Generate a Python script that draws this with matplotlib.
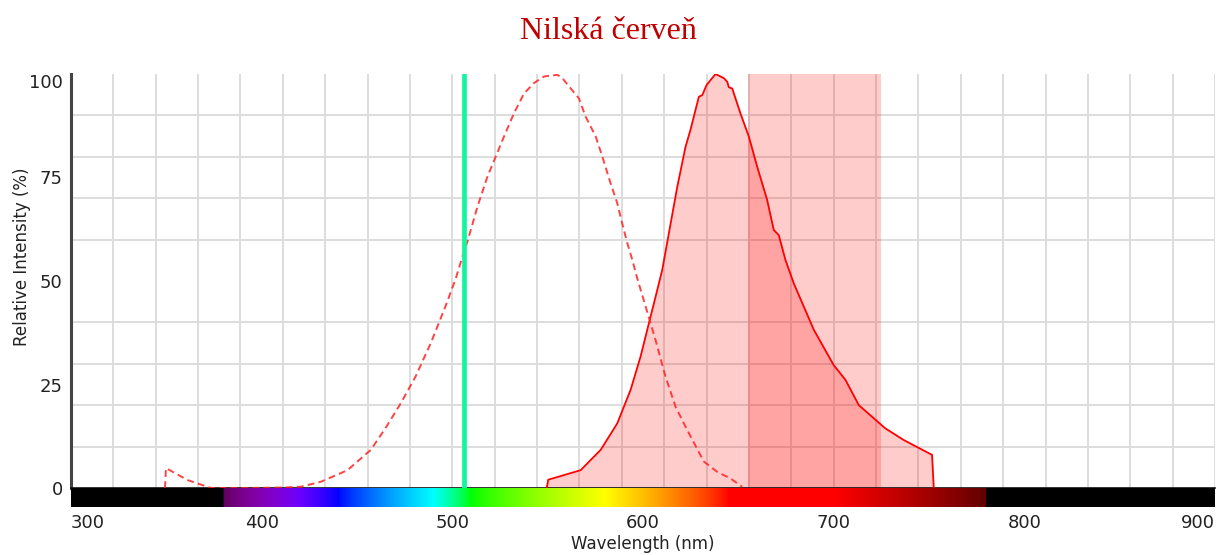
import numpy as np
import matplotlib
matplotlib.use('Agg')
import matplotlib.pyplot as plt

# emission spectrum (solid, filled)
em_nm = [549.5, 550.3, 567.3, 577.8, 586.5, 593.5, 598.7, 603.1, 606.6, 610.1,
         614.5, 618.0, 622.3, 624.9, 629.3, 631.1, 633.3, 638.0, 642.4, 644.2,
         645.0, 646.8, 651.1, 655.5, 659.9, 665.1, 668.6, 671.2, 674.7, 679.1,
         689.6, 700.0, 706.2, 713.2, 727.1, 736.7, 751.6, 752.5]
em_pct = [0, 2.0, 4.3, 9.2, 15.6, 23.7, 31.7, 39.8, 46.2, 52.7,
          63.9, 72.8, 82.4, 86.5, 94.5, 94.9, 97.3, 100, 99.0, 98.1,
          96.8, 96.5, 90.5, 84.9, 77.6, 69.6, 62.3, 61.1, 55.1, 49.4,
          38.2, 29.7, 26.1, 20.0, 14.4, 11.6, 8.0, 0]

# excitation spectrum (dashed)
ex_nm = [349.3, 349.8, 361.2, 373.4, 390, 410, 420.5, 431.0, 445.0, 457.2,
         465, 473, 480.8, 488.7, 496.5, 501.8, 505.3, 507.9, 513.2, 518.4,
         522.7, 527.1, 532.3, 537.6, 542.8, 548.1, 555.1, 557.7, 562.1, 566.4,
         569.9, 575.2, 578.7, 583.0, 586.5, 589.1, 591.8, 594.4, 597.0, 601.4,
         606.6, 611.8, 617.1, 623.2, 631.9, 638.9, 645.9, 652.0]
ex_pct = [0, 4.8, 1.9, 0, 0, 0.1, 0.3, 1.5, 4.3, 9.2,
          14.5, 20.5, 27.0, 35.0, 44.0, 50.6, 55.9, 59.5, 68.0, 75.2,
          80.0, 84.9, 90.5, 95.3, 97.8, 99.4, 99.8, 99.0, 96.5, 94.1,
          89.7, 84.9, 80.0, 73.6, 68.8, 63.9, 59.1, 55.1, 50.6, 43.8,
          35.7, 26.9, 19.6, 14.0, 6.4, 3.9, 2.3, 0.3]

laser_nm = 506
filter_band = (655, 725)

x_ticks = [300, 400, 500, 600, 700, 800, 900]
y_ticks = [0, 25, 50, 75, 100]


def wl_to_rgb(w, gamma=0.8):
    # Bruton's approximation of visible colours
    if w < 380 or w > 780:
        return (0, 0, 0)
    if w < 440:
        r, g, b = -(w - 440) / 60, 0, 1
    elif w < 490:
        r, g, b = 0, (w - 440) / 50, 1
    elif w < 510:
        r, g, b = 0, 1, -(w - 510) / 20
    elif w < 580:
        r, g, b = (w - 510) / 70, 1, 0
    elif w < 645:
        r, g, b = 1, -(w - 645) / 65, 0
    else:
        r, g, b = 1, 0, 0
    if w < 420:
        f = 0.3 + 0.7 * (w - 380) / 40
    elif w > 700:
        f = 0.3 + 0.7 * (780 - w) / 80
    else:
        f = 1.0
    return tuple((c * f) ** gamma if c > 0 else 0 for c in (r, g, b))


W, H = 1217, 555
fig = plt.figure(figsize=(W / 100, H / 100), dpi=100)
ax = fig.add_axes([71 / W, 67 / H, 1144 / W, 414 / H])
cax = fig.add_axes([71 / W, 48 / H, 1144 / W, 19 / H])

ax.set_xlim(300, 900)
ax.set_ylim(0, 100)
# grid on minor ticks, labels on major ticks
ax.set_xticks([])
ax.set_xticks(np.linspace(300, 900, 28), minor=True)
ax.set_yticks(y_ticks)
ax.set_yticklabels([str(v) for v in y_ticks], fontsize=13, color='#222222')
ax.set_yticks(range(0, 101, 10), minor=True)
ax.yaxis.get_majorticklabels()[-1].set_va('top')
ax.tick_params(which='both', length=0)
ax.tick_params(axis='y', pad=6)
ax.grid(True, which='minor', color='#dddddd', lw=1.4, zorder=0)
ax.set_axisbelow(True)
for s in ['top', 'right']:
    ax.spines[s].set_visible(False)
ax.spines['left'].set_color('#444444')
ax.spines['left'].set_linewidth(2.2)
ax.spines['bottom'].set_color('#111111')
ax.spines['bottom'].set_linewidth(1.2)

ax.axvspan(*filter_band, color='red', alpha=0.2, lw=0, zorder=1)
ax.fill_between(em_nm, 0, em_pct, color='red', alpha=0.2, lw=0, zorder=2)
ax.plot(em_nm, em_pct, color='#ff0000', lw=1.3, zorder=3)
ax.plot(ex_nm, ex_pct, color='#ff2222', lw=1.4, ls=(0, (3.5, 2.2)), alpha=0.85, zorder=3)
ax.axvline(laser_nm, color='#14f5a2', lw=3.4, zorder=4)

fig.text(22 / W, 1 - 257 / H, 'Relative Intensity (%)', fontsize=12, color='#222222',
         rotation=90, ha='center', va='center')

# spectrum strip under the plot
wl = np.linspace(300, 900, 1200)
strip = np.array([[wl_to_rgb(w) for w in wl]])
cax.imshow(strip, aspect='auto', extent=(300, 900, 0, 1))
cax.set_xlim(300, 900)
cax.set_yticks([])
cax.set_xticks(x_ticks)
cax.set_xticklabels([str(v) for v in x_ticks], fontsize=13, color='#222222')
labels = cax.get_xticklabels()
labels[0].set_ha('left')
labels[-1].set_ha('right')
cax.tick_params(length=0, pad=5)
for s in cax.spines.values():
    s.set_visible(False)
cax.set_xlabel('Wavelength (nm)', fontsize=12, color='#222222', labelpad=2)

fig.text(0.5, 1 - 39 / H, 'Nilská červeň', family='Liberation Serif', fontsize=23,
         color='#c00000', ha='center', va='baseline')

fig.savefig('out.png', dpi=100)
